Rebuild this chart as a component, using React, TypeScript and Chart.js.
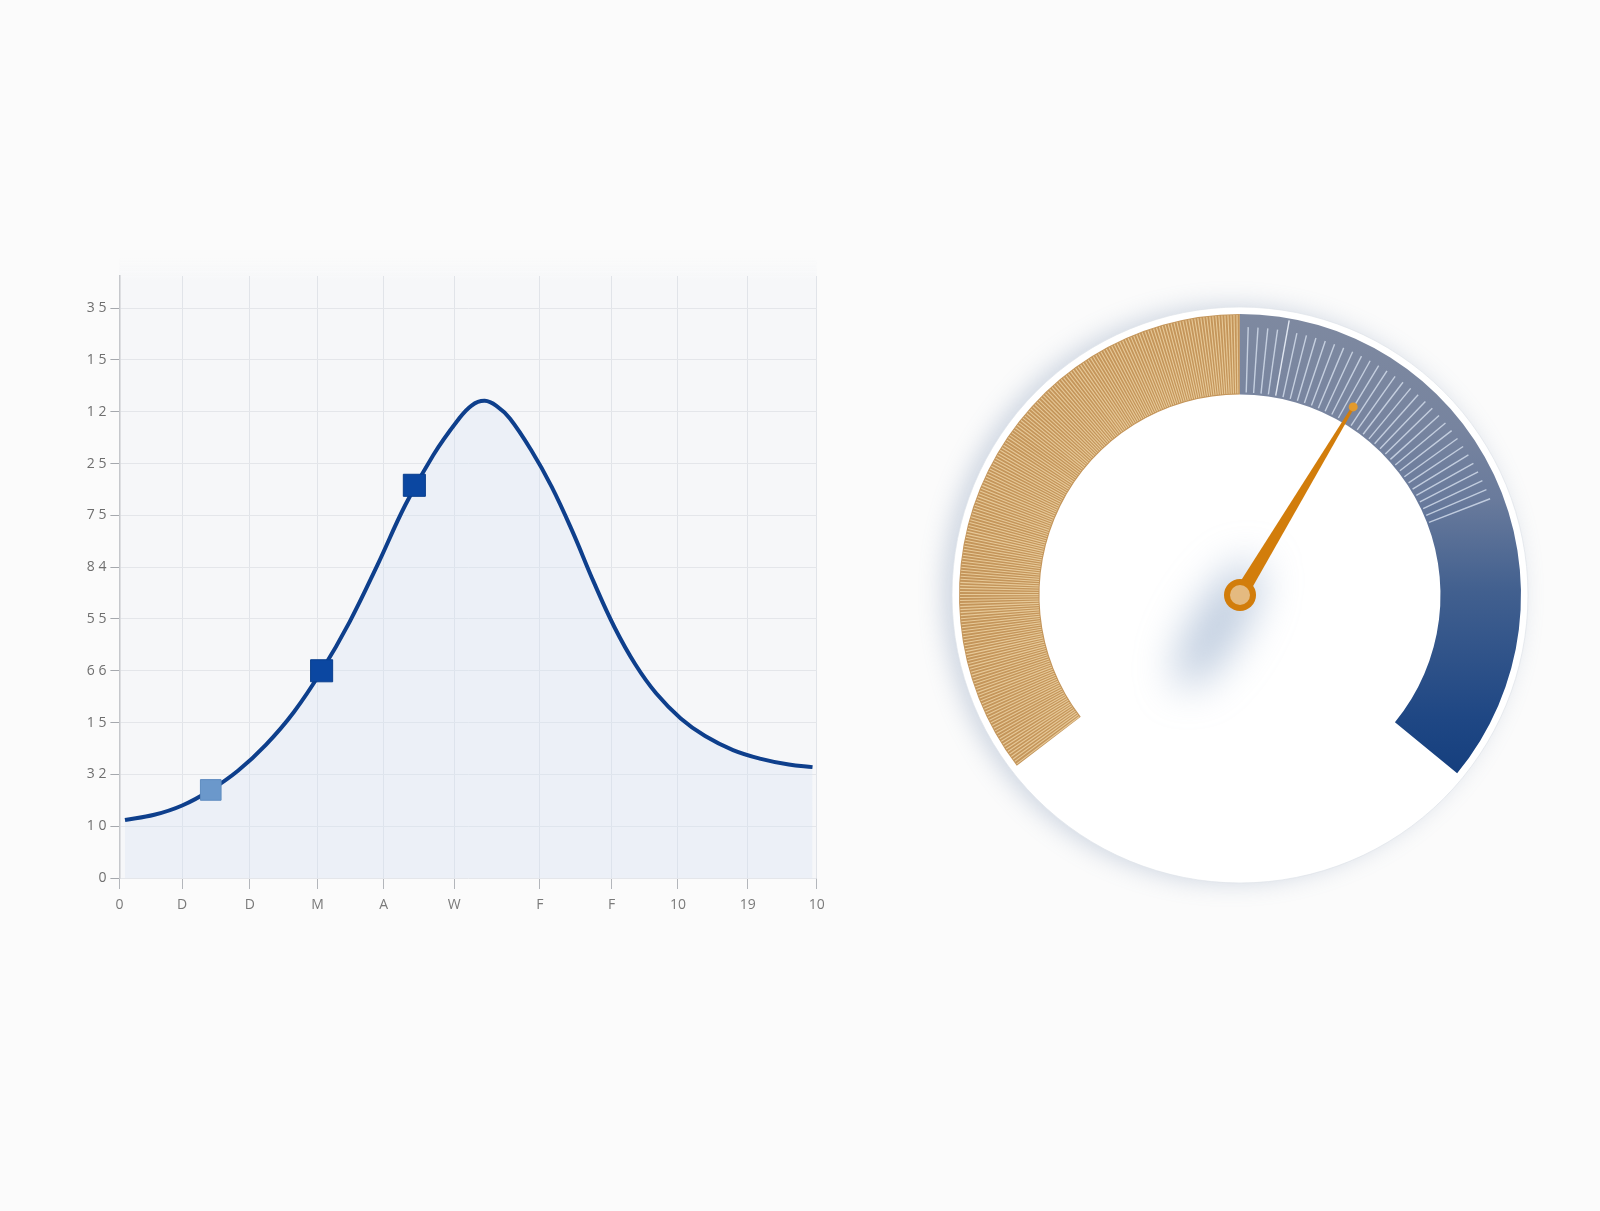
import React, { useEffect, useRef } from 'react';
import { Chart, registerables } from 'chart.js';

Chart.register(...registerables);
Chart.defaults.font.family = "'Open Sans', sans-serif";

// curve: x on a 0-100 axis, y in tick steps
const curveX = [0.8, 5, 9, 13, 17, 21, 25, 29, 33, 37, 41, 45, 48.5, 50.5, 52.4, 54.2, 56, 59, 62, 65, 68, 71, 74, 77, 80.5, 84, 88, 92, 96, 99.4];
const curveY = [1.12, 1.22, 1.4, 1.69, 2.07, 2.57, 3.2, 4.0, 4.94, 6.04, 7.2, 8.16, 8.83, 9.12, 9.21, 9.1, 8.87, 8.27, 7.55, 6.68, 5.72, 4.84, 4.12, 3.56, 3.08, 2.74, 2.47, 2.3, 2.19, 2.14];

const markerX = [13.1, 29.0, 42.3];
const markerY = [1.7, 4.0, 7.58];
const markerColors = ['#6b98cb', '#0b47a1', '#0b47a1'];
const markerBorders = ['#5f8cc0', '#083e8e', '#083e8e'];
const markerSizes = [14.6, 15.6, 15.6];

const xTickValues = [0, 9.0, 18.7, 28.4, 37.9, 48.0, 60.3, 70.6, 80.1, 90.1, 100];
const xTickLabels = ['0', 'D', 'D', 'M', 'A', 'W', 'F', 'F', '10', '19', '10'];
const yTickLabels = ['0', '10', '32', '15', '66', '55', '84', '75', '25', '12', '15', '35'];

// gauge: two bands on a 0-100 dial, needle reading and the end of the ticked part
const gaugeBandNames = ['Gold', 'Blue'];
const gaugeBands = [49.6, 50.4];
const gaugeMin = 0;
const gaugeMax = 100;
const needleValue = 61.7;
const tickedUntil = 76.5;

const GAUGE_ROTATION = -127.4;
const GAUGE_SWEEP = 256.8;
const GAUGE_OUTER = 281;
const GAUGE_INNER = 200.5;

// doughnut with a partial sweep gets pushed down; pad the bottom so the centre stays put
const startRad = (GAUGE_ROTATION - 90) * Math.PI / 180;
const endRad = startRad + GAUGE_SWEEP * Math.PI / 180;
const lowestReach = Math.max(Math.sin(startRad), Math.sin(endRad));
const centerShift = ((1 - lowestReach) / 2) * GAUGE_OUTER;

const plotBackground = {
    id: 'plotBackground',
    beforeDraw(chart: any) {
        const { ctx, chartArea: a } = chart;
        ctx.save();
        const fade = ctx.createLinearGradient(0, a.top - 18, 0, a.top + 4);
        fade.addColorStop(0, 'rgba(246,247,249,0)');
        fade.addColorStop(1, '#f6f7f9');
        ctx.fillStyle = fade;
        ctx.fillRect(a.left, a.top - 18, a.width, 22);
        ctx.fillStyle = '#f6f7f9';
        ctx.fillRect(a.left, a.top + 4, a.width, a.height - 4);
        ctx.restore();
    },
};

const gaugeDecor = {
    id: 'gaugeDecor',
    beforeDatasetsDraw(chart: any) {
        const arcs = chart.getDatasetMeta(0).data;
        if (!arcs.length) return;
        const { x, y, outerRadius, startAngle } = arcs[0];
        const sweep = arcs[arcs.length - 1].endAngle - startAngle;
        const needleAngle = startAngle + ((needleValue - gaugeMin) / (gaugeMax - gaugeMin)) * sweep;
        const ctx = chart.ctx;

        // white dial disc
        ctx.save();
        ctx.shadowColor = 'rgba(110,135,170,0.32)';
        ctx.shadowBlur = 24;
        ctx.shadowOffsetX = -9;
        ctx.shadowOffsetY = -1;
        ctx.beginPath();
        ctx.arc(x, y, outerRadius + 7, 0, Math.PI * 2);
        ctx.fillStyle = '#ffffff';
        ctx.fill();
        ctx.restore();

        ctx.save();
        ctx.beginPath();
        ctx.arc(x, y, outerRadius + 7, 0, Math.PI * 2);
        ctx.strokeStyle = 'rgba(222,226,232,0.7)';
        ctx.lineWidth = 1;
        ctx.stroke();
        ctx.restore();

        // soft shadow under the needle
        ctx.save();
        ctx.filter = 'blur(20px)';
        ctx.translate(x - 22, y + 30);
        ctx.rotate(needleAngle + Math.PI / 2);
        ctx.beginPath();
        ctx.ellipse(0, 0, 24, 72, 0, 0, Math.PI * 2);
        ctx.fillStyle = 'rgba(135,160,195,0.55)';
        ctx.fill();
        ctx.restore();
    },
    afterDatasetsDraw(chart: any) {
        const arcs = chart.getDatasetMeta(0).data;
        if (arcs.length < 2) return;
        const gold = arcs[0];
        const blue = arcs[1];
        const { x, y, innerRadius, outerRadius } = gold;
        const sweep = blue.endAngle - gold.startAngle;
        const ctx = chart.ctx;

        // fine hatching across the gold band
        ctx.save();
        ctx.strokeStyle = 'rgba(238,212,166,0.82)';
        ctx.lineWidth = 1.1;
        const hatch = 0.62 * Math.PI / 180;
        for (let a = gold.startAngle + hatch / 2; a < gold.endAngle; a += hatch) {
            const c = Math.cos(a);
            const s = Math.sin(a);
            ctx.beginPath();
            ctx.moveTo(x + c * (innerRadius + 1), y + s * (innerRadius + 1));
            ctx.lineTo(x + c * (outerRadius - 1), y + s * (outerRadius - 1));
            ctx.stroke();
        }
        ctx.restore();

        // ticks on the first part of the blue band
        const tickEnd = gold.startAngle + ((tickedUntil - gaugeMin) / (gaugeMax - gaugeMin)) * sweep;
        const step = 2.1 * Math.PI / 180;
        ctx.save();
        ctx.lineWidth = 1.4;
        let i = 0;
        for (let a = blue.startAngle + step * 0.85; a < tickEnd; a += step, i++) {
            const c = Math.cos(a);
            const s = Math.sin(a);
            const major = i === 4;
            ctx.strokeStyle = major ? 'rgba(230,236,246,0.95)' : 'rgba(222,231,244,0.75)';
            const r1 = major ? outerRadius - 2 : outerRadius - 13;
            ctx.beginPath();
            ctx.moveTo(x + c * (innerRadius + 2), y + s * (innerRadius + 2));
            ctx.lineTo(x + c * r1, y + s * r1);
            ctx.stroke();
        }
        ctx.restore();

        // needle
        const angle = gold.startAngle + ((needleValue - gaugeMin) / (gaugeMax - gaugeMin)) * sweep;
        const len = innerRadius + 19;
        const c = Math.cos(angle);
        const s = Math.sin(angle);
        const px = -s;
        const py = c;
        ctx.save();
        ctx.fillStyle = '#d27d0b';
        ctx.beginPath();
        ctx.moveTo(x + px * 7, y + py * 7);
        ctx.lineTo(x + c * len + px * 1.4, y + s * len + py * 1.4);
        ctx.lineTo(x + c * len - px * 1.4, y + s * len - py * 1.4);
        ctx.lineTo(x - px * 7, y - py * 7);
        ctx.closePath();
        ctx.fill();
        ctx.beginPath();
        ctx.arc(x + c * len, y + s * len, 4.5, 0, Math.PI * 2);
        ctx.fillStyle = '#e39a2c';
        ctx.fill();

        // hub
        ctx.beginPath();
        ctx.arc(x, y, 16, 0, Math.PI * 2);
        ctx.fillStyle = '#d27d0b';
        ctx.fill();
        ctx.beginPath();
        ctx.arc(x, y, 10, 0, Math.PI * 2);
        ctx.fillStyle = '#e4ba80';
        ctx.fill();
        ctx.restore();
    },
};

const bandFill = (c: any) => {
    if (c.dataIndex === 0) return '#c4955a';
    const area = c.chart.chartArea;
    if (!area) return '#3f5e90';
    const g = c.chart.ctx.createLinearGradient(0, area.top, 0, area.bottom);
    g.addColorStop(0.1, '#7e89a0');
    g.addColorStop(0.3, '#77849f');
    g.addColorStop(0.42, '#6a7b9c');
    g.addColorStop(0.58, '#42608f');
    g.addColorStop(0.8, '#1f4784');
    g.addColorStop(0.9, '#153f7e');
    return g;
};

const App: React.FC = () => {
    const lineRef = useRef<HTMLCanvasElement>(null);
    const gaugeRef = useRef<HTMLCanvasElement>(null);

    useEffect(() => {
        if (!lineRef.current || !gaugeRef.current) return;

        const lineChart = new Chart(lineRef.current, {
            type: 'line',
            data: {
                datasets: [
                    {
                        data: markerX.map((x, i) => ({ x, y: markerY[i] })),
                        showLine: false,
                        pointStyle: 'rect',
                        pointRadius: markerSizes,
                        pointBackgroundColor: markerColors,
                        pointBorderColor: markerBorders,
                        pointBorderWidth: 1,
                        order: 0,
                    },
                    {
                        data: curveX.map((x, i) => ({ x, y: curveY[i] })),
                        borderColor: '#0e3f8c',
                        borderWidth: 4,
                        backgroundColor: 'rgba(214,228,242,0.32)',
                        fill: 'origin',
                        tension: 0.4,
                        pointRadius: 0,
                        order: 1,
                    },
                ],
            },
            options: {
                responsive: false,
                animation: false,
                events: [],
                layout: { padding: { top: 276, right: 43.3, bottom: 0, left: 0 } },
                plugins: { legend: { display: false }, tooltip: { enabled: false } },
                scales: {
                    x: {
                        type: 'linear',
                        min: 0,
                        max: 100,
                        afterBuildTicks: (s: any) => { s.ticks = xTickValues.map(v => ({ value: v })); },
                        afterFit: (s: any) => { s.height = 52; },
                        border: { display: false },
                        grid: { color: '#e1e4e9', lineWidth: 1, tickLength: 11, tickColor: '#b3b6bb' },
                        ticks: {
                            autoSkip: false,
                            maxRotation: 0,
                            padding: 8,
                            color: '#7a7a7a',
                            font: { size: 14 },
                            callback: (_v: any, i: number) => xTickLabels[i] ?? '',
                        },
                    },
                    y: {
                        type: 'linear',
                        min: 0,
                        max: 11.62,
                        afterBuildTicks: (s: any) => { s.ticks = yTickLabels.map((_, i) => ({ value: i })); },
                        afterFit: (s: any) => { s.width = 119.4; },
                        border: { display: true, color: '#c6c8cc', width: 1.5 },
                        grid: { color: '#e4e6ea', lineWidth: 1, tickLength: 9, tickColor: '#a5a8ad' },
                        ticks: {
                            padding: 4,
                            color: '#6f6f6f',
                            font: { size: 14 },
                            callback: (_v: any, i: number) => (yTickLabels[i] ?? '').split('').join(' '),
                        },
                    },
                },
            },
            plugins: [plotBackground],
        });

        const gaugeChart = new Chart(gaugeRef.current, {
            type: 'doughnut',
            data: {
                labels: gaugeBandNames,
                datasets: [{ data: gaugeBands, backgroundColor: bandFill, borderWidth: 0 }],
            },
            options: {
                responsive: false,
                animation: false,
                events: [],
                rotation: GAUGE_ROTATION,
                circumference: GAUGE_SWEEP,
                radius: GAUGE_OUTER,
                cutout: `${(GAUGE_INNER / GAUGE_OUTER) * 100}%`,
                layout: { padding: { bottom: 2 * centerShift } },
                plugins: { legend: { display: false }, tooltip: { enabled: false } },
            },
            plugins: [gaugeDecor],
        });

        return () => {
            lineChart.destroy();
            gaugeChart.destroy();
        };
    }, []);

    return (
        <div style={{ position: 'absolute', left: 0, top: 0, width: 1600, height: 1211, background: '#fbfbfb', overflow: 'hidden' }}>
            <canvas ref={lineRef} width={860} height={930} style={{ position: 'absolute', left: 0, top: 0, width: 860, height: 930 }} />
            <canvas ref={gaugeRef} width={680} height={680} style={{ position: 'absolute', left: 900, top: 255, width: 680, height: 680 }} />
        </div>
    );
};

export default App;
